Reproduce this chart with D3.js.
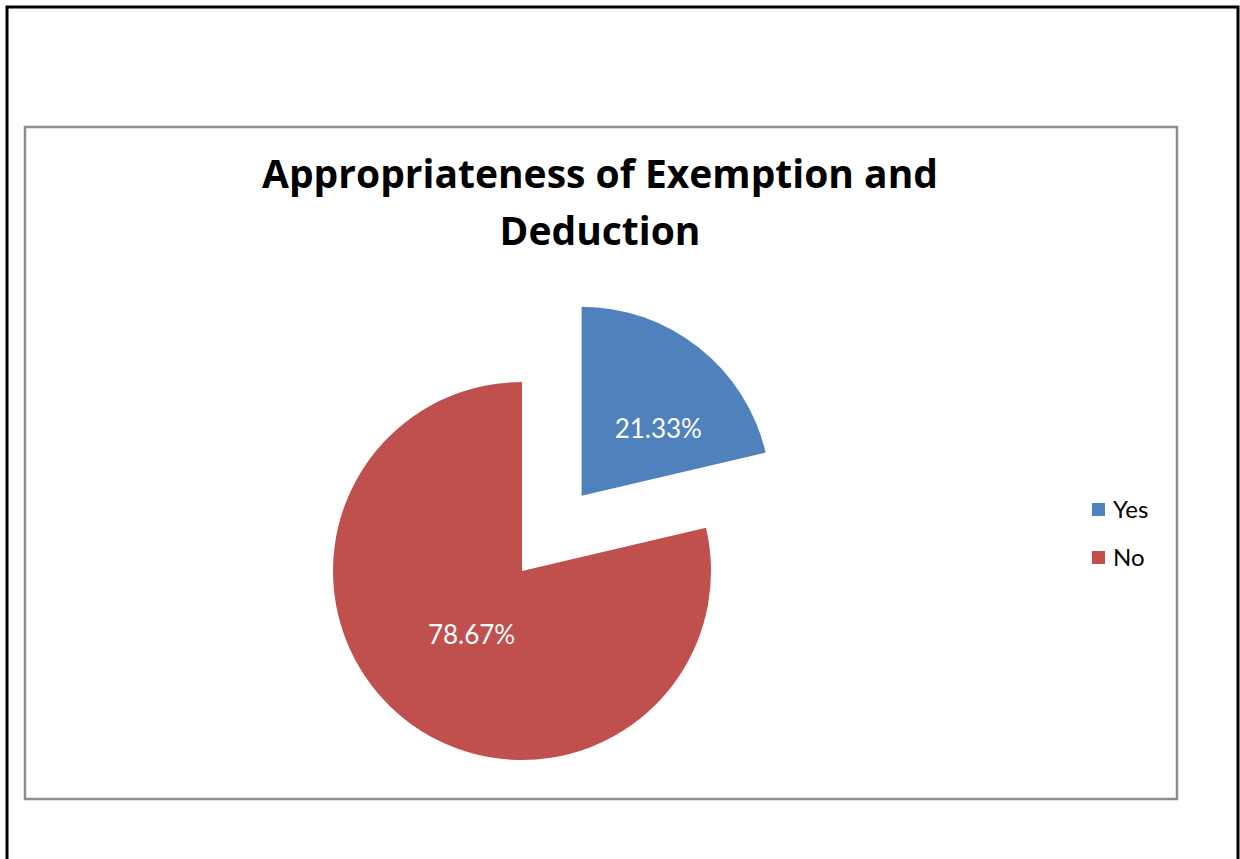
<!DOCTYPE html>
<html>
<head>
<meta charset="utf-8">
<script src="https://cdn.jsdelivr.net/npm/d3@7"></script>
<style>
  body { margin: 0; background: #fff; }
  svg { display: block; }
</style>
</head>
<body>
<svg id="svg1" width="1240" height="859"></svg>
<script>
// data
var categories = ["Yes", "No"];
var values = [21.33, 78.67];
var colors = ["#4F81BD", "#C0504D"];
var titleLines = ["Appropriateness of Exemption and", "Deduction"];

var svg = d3.select("#svg1");

// outer page frame (no bottom edge)
svg.append("path")
   .attr("d", "M7,859 L7,7 L1238,7 L1238,859")
   .attr("fill", "none")
   .attr("stroke", "#000")
   .attr("stroke-width", 3);

// chart area border
svg.append("rect")
   .attr("x", 25).attr("y", 127)
   .attr("width", 1152).attr("height", 672)
   .attr("fill", "#fff")
   .attr("stroke", "#8c8c8c")
   .attr("stroke-width", 2.5);

// title
svg.selectAll(".title")
   .data(titleLines)
   .enter()
   .append("text")
   .attr("class", "title")
   .attr("x", 600)
   .attr("y", function(d, i) { return 188 + i * 57; })
   .attr("text-anchor", "middle")
   .attr("font-family", "'Open Sans', sans-serif")
   .attr("font-weight", "bold")
   .attr("font-size", 39)
   .attr("fill", "#000")
   .text(function(d) { return d; });

var cx = 522, cy = 571, radius = 189;
var explode = 96;

var pie = d3.pie().sort(null).value(function(d) { return d; });
var arcs = pie(values);

var arc = d3.arc().innerRadius(0).outerRadius(radius);

var g = svg.append("g")
           .attr("transform", "translate(" + cx + "," + cy + ")");

function offset(d, i) {
  // only the first slice is pulled out
  if (i != 0) return [0, 0];
  var a = (d.startAngle + d.endAngle) / 2;
  return [Math.sin(a) * explode, -Math.cos(a) * explode];
}

g.selectAll(".slice")
  .data(arcs)
  .enter()
  .append("path")
  .attr("class", "slice")
  .attr("d", arc)
  .attr("fill", function(d, i) { return colors[i]; })
  .attr("transform", function(d, i) {
    var o = offset(d, i);
    return "translate(" + o[0] + "," + o[1] + ")";
  });

// labels
var labelR = [radius * 0.54, radius * 0.43];

g.selectAll(".lbl")
  .data(arcs)
  .enter()
  .append("text")
  .attr("class", "lbl")
  .attr("transform", function(d, i) {
    var o = offset(d, i);
    var a = (d.startAngle + d.endAngle) / 2;
    // small slice label sits a bit further round, like excel does it
    var shift = i == 0 ? 0.18 : 0;
    var x = Math.sin(a + shift) * labelR[i] + o[0];
    var y = -Math.cos(a + shift) * labelR[i] + o[1];
    return "translate(" + x + "," + y + ")";
  })
  .attr("dy", "0.36em")
  .attr("text-anchor", "middle")
  .attr("font-family", "Lato, 'Open Sans', sans-serif")
  .attr("font-size", 26)
  .attr("fill", "#fff")
  .text(function(d) { return d.value.toFixed(2) + "%"; });

// legend
var legend = svg.append("g")
                .attr("transform", "translate(1092,503)");

var item = legend.selectAll(".item")
  .data(categories)
  .enter()
  .append("g")
  .attr("class", "item")
  .attr("transform", function(d, i) { return "translate(0," + i * 48 + ")"; });

item.append("rect")
    .attr("width", 13).attr("height", 13)
    .attr("fill", function(d, i) { return colors[i]; });

item.append("text")
    .attr("x", 21)
    .attr("y", 6.5)
    .attr("dy", "0.36em")
    .attr("font-family", "Lato, 'Open Sans', sans-serif")
    .attr("font-size", 24)
    .attr("fill", "#000")
    .text(function(d) { return d; });
</script>
</body>
</html>
